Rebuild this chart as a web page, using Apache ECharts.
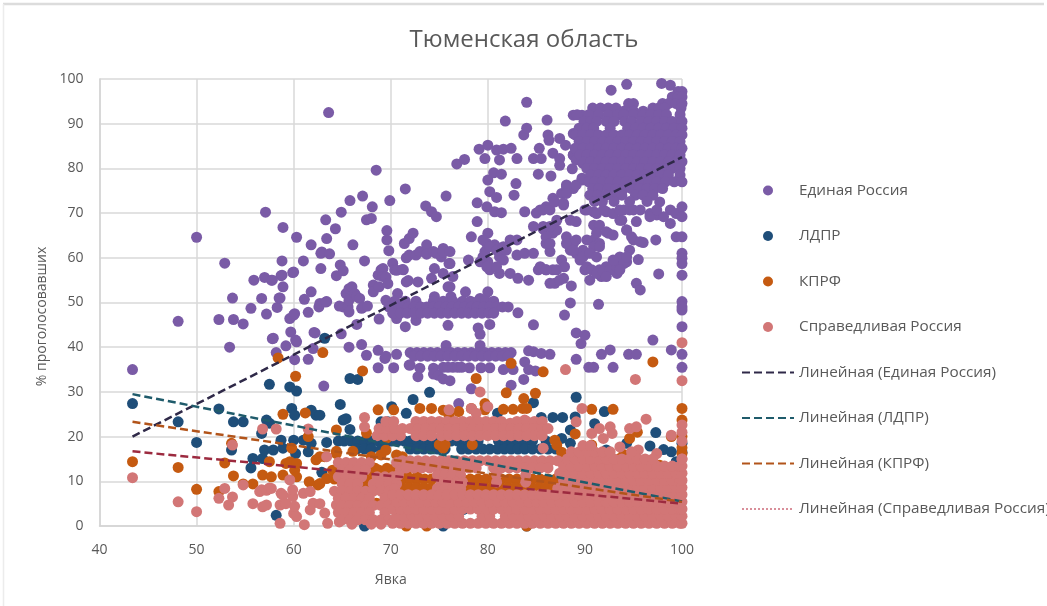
<!DOCTYPE html>
<html><head><meta charset="utf-8">
<style>html,body{margin:0;padding:0;background:#fff}#c{width:1047px;height:606px;filter:blur(0.55px)}</style>
<script src="https://cdn.jsdelivr.net/npm/echarts@6/dist/echarts.min.js"></script>
</head><body><div id="c"></div>
<script>
const chartTitle='Тюменская область';
const xName='Явка', yName='% проголосовавших';
const seriesNames=['Единая Россия','ЛДПР','КПРФ','Справедливая Россия'];
const trendNames=['Линейная (Единая Россия)','Линейная (ЛДПР)','Линейная (КПРФ)','Линейная (Справедливая Россия)'];
const trendX=[43.4,100];
const trendER=[20,82.5], trendLDPR=[29.5,5.5], trendKPRF=[23.3,5.4], trendSR=[16.7,5];

// Единая Россия – separate points
const erLeft=[[43.4,35],[48.1,45.8],[50,64.6],[52.3,46.2],[52.9,58.8],[53.8,46.2],[54.8,45.2],[53.4,40],[53.7,51],[55.6,48.7],[55.9,55],[56.7,50.9],[57,55.6],[57.1,70.2],[57.2,47.4],[57.7,55],[57.8,55],[57.8,41.9],[57.9,42],[58.2,38.8],[58.3,48.9],[58.5,51],[58.6,51],[58.7,56],[58.8,59.3],[58.8,56.1],[58.9,53.5],[58.9,66.8],[59.2,40.3],[59.6,46.4],[59.7,43.4],[59.9,56.7],[60,56.8],[60,47.2],[60.1,47.5],[60.1,37.2],[60.2,41.6],[60.3,64.6],[60.3,41.2],[61,59.3],[61.1,50.7],[61.5,47.8],[61.5,37.3],[61.8,52.4],[61.8,62.9],[62,39.7],[62.1,43.3],[62.2,43.2],[62.6,49],[62.7,49.8],[62.8,61],[62.8,57.6],[62.9,61.3],[63.1,31.3],[63.3,50.1],[63.3,68.5],[63.4,50.2],[63.4,64.3],[63.6,92.5],[63.7,60.9],[64.3,66.5],[64.4,56],[64.7,49.2],[64.8,58.4],[64.9,70.2],[64.9,43],[65.1,57.1],[65.1,49],[65.4,52],[65.6,49],[65.7,53.1],[65.7,50.5],[65.7,47.9],[65.7,40],[65.8,72.8],[66,53.5],[66.1,62.9],[66.3,52],[66.5,45.1],[66.5,51.3],[66.8,50.9],[67,48.7],[67,40.6],[67.1,73.8],[67.2,49],[67.3,59.3],[67.5,68.5],[67.5,38.2],[67.6,49.2],[68,68.8],[68.1,71.4],[68.2,53.9],[68.2,52.4],[68.5,79.6],[68.7,56.1],[68.7,39.3],[68.7,35.4],[68.8,53.5],[68.8,46.3],[69,57.3],[69.2,57.6],[69.2,55.8],[69.4,37.5],[69.5,55.7],[69.5,50.5],[69.5,38],[69.6,66.1],[69.6,64],[69.7,54.2],[69.8,61.6],[69.9,72.8],[70.2,58.8],[70.3,35.4],[70.4,57.3],[70.6,57.2],[70.6,46.4],[70.6,38.4],[70.7,52],[71.2,57.4],[71.5,44.6],[71.6,54.6],[71.6,60],[71.9,36]];
const erMid=[[71.3,57.3],[71.4,63.2],[71.5,75.4],[71.8,54.9],[71.9,64.3],[71.9,60.6],[72,36],[72.3,65.5],[72.6,60.6],[72.6,46],[72.8,54.6],[72.8,33.4],[73,61.4],[73,35.3],[73.6,71.6],[73.7,62.9],[73.7,60.8],[74.2,70.3],[74.2,55.4],[74.4,61.4],[74.4,35.3],[74.4,34],[74.5,57.6],[74.5,51.3],[74.7,69.2],[74.7,61],[74.9,33.7],[75.2,60.2],[75.4,62.1],[75.4,56.5],[75.4,61.3],[75.4,32.9],[75.7,73.8],[75.7,40.4],[75.9,53.5],[75.9,44.9],[76,58.7],[76.1,61.4],[76.1,58.7],[76.1,53.5],[76.1,32.5],[76.2,51.3],[76.4,55.8],[76.8,81],[77,27.4],[77.6,82],[77.7,52.4],[78,59.5],[78.1,35.4],[78.3,64.7],[78.3,30.7],[78.9,72.3],[78.9,68.1],[79,44.3],[79.1,84.3],[79.2,59.1],[79.2,50.9],[79.2,42.9],[79.2,40.4],[79.3,35.4],[79.7,82.2],[79.7,61.4],[79.9,71.4],[79.9,63.2],[80,85.2],[80,77.4],[80,65.5],[80,59.1],[80,52.4],[80.2,74.8],[80.2,57.3],[80.2,45.1],[80.2,35.4],[80.6,79],[80.7,70.3],[80.7,62.9],[80.9,84.1],[80.9,73.5],[81.2,81.9],[81.2,60.2],[81.2,56.5],[81.4,78.7],[81.4,70.1],[81.6,84.3],[81.6,59.5],[81.6,35],[81.8,90.6],[81.9,61.7],[82.3,64],[82.3,56.5],[82.4,84.5],[82.4,31.5],[82.6,35],[82.7,74],[82.9,76.6],[83,82.2],[83,64],[83,60.6],[83.1,55.4],[83.1,47.7],[83.7,87.5],[83.7,32.8],[83.8,70.3],[83.8,61],[83.8,36.7],[84,94.8],[84,89],[84.2,55],[84.2,39.2],[84.2,35],[84.7,82.2],[84.7,67],[84.7,61],[84.7,45],[84.7,39],[84.9,34.7],[85.2,78.7],[85.2,57.3],[85.3,84.5],[85.4,70.7],[85.5,82.2],[85.5,38.6],[85.7,66.4],[86,71.4],[86,63.2],[86,57.3],[86.1,90.8],[86.2,87.5],[86.3,86.3],[86.4,61.4],[86.4,38.4],[86.5,78.3],[86.7,83.4],[86.7,73.3],[86.7,65.5],[86.7,57.3],[86.9,54.3],[87.4,86.7],[87.4,82.2],[87.4,80.7],[87.6,74.4],[87.6,59.5],[87.8,71.8],[87.8,55.4],[87.9,58],[87.9,47.2],[88,85.2],[88.1,76.3],[88.1,64.7],[88.5,68.4],[88.5,61.7],[88.5,49.9],[88.6,53.7],[88.7,79.9],[88.8,91.9],[88.8,83],[88.8,75.5],[88.8,63.2],[89.1,68.1],[89.1,61],[89.1,43.2],[89.1,37.3],[89.5,59.5],[89.6,40.8],[89.7,91.9],[89.7,77.4],[89.8,61.7],[90,70.7],[90,57.3],[90,42.7],[90.4,35.5],[90.5,55],[90.9,70.3],[90.9,64],[90.9,35.5],[91.2,67],[91.4,49.6],[91.5,63.2],[91.5,57.3],[91.7,55.8],[91.7,38.4],[92.2,70.3],[92.2,58],[92.4,65.5],[92.6,39.4],[92.7,97.5],[92.9,58.7],[92.9,35.5],[93.3,56.5],[93.6,68.4],[93.6,60.2],[94,70.7],[94.3,98.8],[94.3,66.2],[94.3,59.1],[94.5,38.4],[94.6,70.7],[94.6,61.7],[95,64],[95.3,68.1],[95.3,54.3],[95.3,38.4],[95.5,59.6],[95.7,52.8],[96,63.4],[96.7,69.9],[97,41.6],[97.3,64],[97.4,69.6],[97.6,56.4],[97.7,72.5],[97.9,99],[98.8,98.6],[98.8,70.7],[98.8,67.7],[98.9,39.4],[99.4,69.9],[99.4,64.7],[100,71.4],[100,69.2],[100,64.7],[100,61],[100,59.9],[100,58.7],[100,56.1],[100,50.2],[100,49],[100,48.3],[100,44.6],[100,38.4],[100,35.5]];
const erExtra=[[90.2,70.7],[91.2,69.9],[91.9,70.7],[92.9,69.9],[90.9,67.3],[91.5,67.3],[91.2,65.5],[92.2,65.8],[92.9,65.1],[90.2,64],[90.9,62.5],[91.5,62.5],[89.8,60.2],[90.5,61],[91.2,60.2],[90.2,58],[90.7,57.3],[91.2,56.5],[91.9,56.9],[92.6,57.3],[93.3,58],[94,58.7],[92.9,59.5],[93.6,57.3],[94.3,60.2],[92.2,55.8],[93.8,68.4],[94.3,66.2],[94.8,64.7],[95.7,63.6],[93.6,70.7],[95,70.7],[95.7,70.7],[96.7,69.2],[98.1,69.2],[97.4,70.7],[85.4,58],[86,57.3],[87.1,57.3],[86.4,54.3],[87.4,55],[88.1,63.2],[88.8,61.7],[89.1,64],[86,64.7],[86.4,63.2],[87.1,66.2],[79.5,64],[80.2,62.5],[80.9,61.7],[81.6,62.5],[79.5,60.2],[79.9,58],[80.9,58],[85,70],[85.7,70.7],[86.4,70.7],[86.9,72.5],[88.1,75.9],[89.1,76.3],[89.7,77.8],[88.1,74.4],[87.8,72.2],[87.1,68.4],[86.4,67],[85.7,67],[88.8,83],[89.1,81.9],[89.8,81.1],[89.5,88.6],[88.8,87.8],[89.1,84.1]];
// Единая Россия – dense rows [y,[x...]]
const erBlobRows=[
[97.2,[99.6,100]],[96,[99,99.6,100]],[94.5,[94.5,95,98,98.6,99.4,100]],[93.5,[90.8,91.6,92.4,93.2,97,97.6,98.2,99.9]],[92.8,[94,95,96]],
[92,[89.2,90.4,91.4,92.4,93.4,94,95,96,96.8,97.6,98.4,99.8]],[90.5,[89.9,90.6,91.2,92.2,93,94.1,94.8,95.8,96.6,97.4,98.2,99,100]],
[89,[89.4,90.2,90.9,92.6,94.4,95.2,96,96.8,97.6,98.4,99.2,100]],[87.5,[89,89.8,90.6,91.4,92.2,93,93.8,94.6,95.4,96.2,97,97.8,98.6,99.4,100]],
[86,[89.4,90.2,91,91.8,92.6,93.4,94.2,95,95.8,96.6,97.4,98.2,99,99.8]],[84.5,[89,89.8,90.6,91.4,92.2,93,93.8,94.6,95.4,96.2,97,97.8,98.6,99.4,100]],
[83,[89.5,90.2,91,91.8,92.6,93.4,94.2,95,95.8,96.6,97.4,98.2,99,99.8]],[81.5,[89.9,90.6,91.4,92.2,93,93.8,94.6,95.4,96.2,97,97.8,98.6,99.4,100]],
[80,[90.2,91,91.8,92.6,93.4,94.2,95,95.8,96.6,97.4,98.2,99,99.8]],[78.5,[90.6,91.4,92.2,93,93.8,94.6,95.4,96.2,97,97.8,98.6,99.8]],
[77,[90.4,91,91.8,92.6,93.4,94.2,95,95.8,96.6,97.4,98.3,99.2,100]],[75.5,[90.8,91.4,92.4,93.2,94,94.8,95.6,96.4,97.2,98]],
[74,[90.5,91.3,92.2,93,93.8,95.2,96,97]],[72.6,[91,91.8,93,94.6,96.4]]];
const erBandRows=[
[50.3,[70.4,71.5,72.6,74.4,75.4,76.4,77.4,78.2,79,79.8,80.6]],
[49,[69.8,70.5,71.1,71.8,72.4,73.1,73.7,74.4,75,75.7,76.3,77,77.6,78.3,78.9,79.6,80.2,80.9,81.5,82.1]],
[47.6,[70.2,71,71.7,72.4,73.1,73.8,74.5,75.2,75.9,76.6,77.3,78,78.7,79.4,80.1,80.6]],
[38.8,[72,72.7,73.4,74.1,74.8,75.5,76.2,76.9,77.6,78.3,79,79.7,80.4,81.1,81.8,82.4]],
[38,[72.4,73.1,73.8,74.5,75.2,75.9,76.6,77.3,78,78.7,79.4,80.1,80.8,81.5,82.1]],
[35.5,[75.4,75.9,76.4,76.9,77.3]]];

// ЛДПР
const ldprPoints=[[43.4,27.4],[48.1,23.3],[50,18.7],[52.3,26.2],[53.6,17],[53.8,23.3],[54.8,23.3],[55.6,13],[55.8,15.1],[56.7,20.7],[56.8,15.1],[57,17],[57.2,23.7],[57.5,31.7],[57.5,23],[57.9,17],[58.2,2.4],[58.7,19.2],[58.9,17.4],[59.6,31.1],[59.8,26.3],[60,19.2],[60.1,24.8],[60.2,16.2],[60.3,30.2],[61,19.2],[61.5,16.6],[61.8,25.9],[61.8,18.5],[62.3,24.8],[62.7,24.8],[62.9,12],[63.2,42],[63.4,18.7],[64.8,27.2],[65.1,23.7],[65.4,24],[65.8,33],[65.8,21.6],[66.3,13.6],[66.6,32.8],[67.3,0],[69,23.3],[69.7,23.3],[70.1,26.7],[71.6,25.2],[72.3,28.3],[74,29.9],[75.4,0],[77.5,3.7],[81,25.2],[81.1,9.5],[84,0],[84.7,27.6],[85.5,24.3],[86.7,24.3],[87.6,19.6],[87.7,24.3],[88.5,21.5],[88.5,18.5],[89,24.4],[89.1,28.8],[91,22.9],[92,25.6],[92.2,17],[94.3,18.5],[96.7,17.9],[97.3,20.9],[98.1,17.1],[98.9,16.6],[99.4,14.4],[100,18.5],[100,16.5]];
const ldprBandRows=[
[19,[64.6,65.2,65.9,66.6,67.3,68,68.7,69.3,70,70.7,71.4,72,72.7,73.4,74.1,74.8,75.5,76.2,76.9,77.6,78.3,79,81.1,81.8,82.5,83.2,83.9,84.6,86]],
[17.2,[66.5,67.3,68,69,72,72.7,73.4,74.1,74.8,75.6,77.3,78,78.8,79.5,80.2,81,81.7,82.4,83.1,83.8,84.6,85.4,86.2,87]]];

// КПРФ
const kprfPoints=[[43.4,14.4],[48.1,13.1],[50,8.2],[52.3,7.7],[52.9,14.1],[53.6,18.5],[53.8,11.2],[54.8,9.4],[55.8,9.4],[56.8,11.4],[57.5,14.4],[57.7,11],[58.4,37.6],[58.9,11.4],[58.9,25],[59.2,14],[59.6,14.4],[59.8,17.4],[60.1,12.5],[60.2,33.5],[60.3,14],[60.3,11],[61.2,25.3],[61.5,20],[61.6,9.9],[62.3,14.8],[62.5,9.2],[62.7,15.5],[62.7,9.5],[63,38.8],[63.2,15.5],[63.4,10.6],[64.4,21.5],[64.4,16.7],[64.4,16.2],[66,14],[66.1,16.7],[67.1,34.7],[67.5,20.8],[67.5,10],[67.5,9],[68,15.5],[68.4,12.9],[68.5,5.1],[68.6,5],[68.7,26],[69,15.9],[69.5,17],[69.6,19.7],[69.6,12.9],[70.3,26],[70.5,13],[70.6,15.9],[71.2,15.5],[71.6,11.8],[72.7,11.1],[73,26.3],[74.2,26.3],[75.4,25.9],[75.4,17.4],[76,24.8],[77,25.6],[78.3,26.3],[78.8,33],[79.7,27.4],[79.7,26],[81.6,26.1],[81.9,29.8],[82.4,36.4],[82.6,26.1],[83.6,26.3],[83.7,28.5],[84,26.3],[84,0],[84.9,29.7],[85.7,34.5],[86.9,19.2],[87.1,18.1],[87.6,16.5],[89,20.6],[90.7,26.1],[90.7,18.1],[92.9,26.1],[93.6,15.1],[94,16],[94.6,19.6],[95.4,21],[96.2,13.3],[97,36.7],[97.7,13.6],[98.9,20],[100,26.3],[100,23.7],[100,17.5],[100,16.2],[100,20],[73.7,0],[71.6,0]];
const kprfBandRows=[
[12.5,[64,64.8,65.6,66.4,67.2,68,68.8,69.6,70.4]],
[10.5,[64.2,65,65.8,66.6,67.4,68.2,69,70,71.2,72,72.8,73.5,74.2,75,75.8,76.6,77.4,78.2,79,79.8,80.6,81.4,82.2,83,83.8,84.6,85.4,86.2,87]],
[8.6,[65.5,66.5,67.5,68.2,69,71,71.8,72.6,73.4,74.2,75,75.8,76.8,78,78.8,79.6,80.4,81.2,82,82.8,83.6,84.4,85.2,86,86.8]],
[18.2,[75,75.6,78.4]]];

// Справедливая Россия
const srPoints=[[43.4,10.8],[48.1,5.4],[50,3.2],[52.3,6.2],[52.9,8.4],[53.3,4.7],[53.7,6.5],[53.7,18.1],[54.8,9.2],[55.8,5],[56.5,7.7],[56.7,8.1],[56.8,4.3],[56.8,21.7],[57.2,8],[57.2,4.7],[57.5,8.5],[57.7,8.4],[58.2,21.7],[58.6,4.7],[58.6,0.6],[58.7,7.3],[58.9,6.9],[59.2,5],[59.6,10.3],[59.9,6.6],[59.9,8.1],[60,2.8],[60.1,4.4],[60.3,2.1],[61,7.3],[61.1,0.3],[61.5,21.7],[61.7,7.7],[61.7,3.6],[62,5.1],[62.7,5],[63.2,2.9],[63.4,15.5],[63.5,0.6],[64.4,4.7],[64.7,0.9],[67.3,24.3],[67.3,22.2],[76,26],[78.3,26.3],[78.8,25.2],[79.2,30],[80,26.7],[82.3,23],[83.8,23.7],[85.7,17.4],[88,35],[89.1,23.3],[89.7,26.3],[90.7,20.7],[91.5,21.8],[91.9,19.6],[92.6,22.2],[92.8,20.7],[93.6,17.7],[94.6,21.8],[95.2,32.8],[95.3,22.2],[95.5,17],[96.3,23.9],[97.4,16.2],[98.9,20.3],[100,41],[100,32.5],[100,22.6],[100,21],[100,19],[100,15]];
const srLeftRows=[
[14.2,[64.6,65.4,66.2,67,67.8,70.6,71.4]],[12.6,[65,65.8,66.6,67.4,71]],[11,[64.6,65.4,66.2,67,68.6,69.4,70.2]],
[9.4,[65,65.8,66.6,68.2,69,69.8,70.6]],[7.8,[64.2,65,65.8,66.6,67.4,68.2,69,69.8]],[6.2,[64.6,65.4,66.2,67,67.8,69.4,70.2]],
[4.6,[65,65.8,66.6,67.4,68.2,69,69.8]],[3,[64.6,65.4,66.2,67,67.8,69.4]],[1.4,[65,65.8,66.6,67.4,68.2,69,69.8]],[0.4,[66,68,69]],
[20.2,[68.6,69.4,70.2,71]],[21.8,[68.8,69.6,70.4,71.2]],[23.4,[69.5,70.3]]];
const srBandRows=[
[23.4,[72.6,73.4,74.2,75,75.8,76.6,77.4,78.2,79,79.8,80.6,81.4,83,84,84.8,85.6]],
[21.8,[72,72.8,73.6,74.4,75.2,76,76.8,77.6,78.4,79.2,80,80.8,81.6,82.4,83.2,84,84.8,85.6,86.2]],
[20.2,[72.6,73.4,74.2,75.2,76,76.8,77.6,78.4,79.2,80,80.8,81.6,82.4,83.2,84,84.8,85.6]],
[14.6,[71.2,72,72.8,73.6,74.4,75.2,76,76.8,77.6,78.4,79.2,80,80.8,81.6,82.4,83.2,84,84.8,85.6,86.4,87.2]],
[13,[71.6,72.4,73.2,74,74.8,75.6,76.4,77.2,78,78.8,80.6,81.4,82.2,83,83.8,84.6,85.4,86.2]],
[11.4,[74.8,75.6,76.4,77.2,80.9,83.9,70.8]],[9.8,[75.2,76,76.8,77.4,80.9,83.9]],[8.4,[74.8,75.6,76.4,77.2,70.4,87.2]]];
const massA=[70.2,71,71.8,72.6,73.4,74.2,75,75.8,76.6,77.4,78.2,79,79.8,80.6,81.4,82.2,83,83.8,84.6,85.4,86.2,87,87.8,88.6,89.4,90.2,91,91.8,92.6,93.4,94.2,95,95.8,96.6,97.4,98.2,99,99.8,100];
const massB=[70.6,71.4,72.2,73,73.8,74.6,75.4,76.2,77,77.8,78.6,79.4,80.2,81,81.8,82.6,83.4,84.2,85,85.8,86.6,87.4,88.2,89,89.8,90.6,91.4,92.2,93,93.8,94.6,95.4,96.2,97,97.8,98.6,99.4,100];
const holes5=[76.6,77.4], holes2=[77.8,78.6,80.6,81];
const srMassRows=[
[0.6,massA],[2.2,massB.filter(x=>!holes2.includes(x))],[3.8,massA],[5.4,massB.filter(x=>!holes5.includes(x))],[7,massA],
[8.6,massB.slice(22)],[10.2,massA.slice(22)],[11.8,massB.slice(21)],[13.4,massA.slice(22)],
[15,[88.2,89,89.8,90.6,91.4,92.2,93,93.8,94.6,95.4,96.2,97,100]],[16.6,[88.6,89.4,90.2,91,91.8,92.6,94.8]],[18,[89.8,90.6]]];

const expand=rows=>rows.flatMap(([y,xs])=>xs.map(x=>[x,y]));
const pts=(list,rows)=>list.concat(...rows.map(expand));
const erData=pts(erLeft.concat(erMid,erExtra),[erBlobRows,erBandRows]);
const ldprData=pts(ldprPoints,[ldprBandRows]);
const kprfData=pts(kprfPoints,[kprfBandRows]);
const srData=pts(srPoints,[srLeftRows,srBandRows,srMassRows]);
const colors=['#7a5ba6','#1f4e79','#c55a11','#d27676'];
const trendColors=['#2f2948','#1f5b6b','#b2541a','#9c2a3f'];
const line=(name,ys,col)=>({name,type:'line',data:trendX.map((x,i)=>[x,ys[i]]),symbol:'none',z:5,silent:true,
  lineStyle:{color:col,width:2.5,type:[8,4]},itemStyle:{color:col}});
const scat=(name,data,col)=>({name,type:'scatter',data,symbolSize:11,z:3,itemStyle:{color:col,opacity:1},silent:true,large:false});
const font='"Open Sans"';
const hidden={color:'transparent',borderWidth:0};
const chart=echarts.init(document.getElementById('c'),null,{renderer:'canvas'});
chart.setOption({
 animation:false,backgroundColor:'#fff',
 title:{text:chartTitle,left:519,top:23,textAlign:'center',textStyle:{fontFamily:font,fontSize:24,fontWeight:400,color:'#595959'}},
 grid:{left:99.5,right:365,top:79,bottom:80,containLabel:false},
 xAxis:{type:'value',min:40,max:100,interval:10,name:xName,nameLocation:'middle',nameGap:47,
  nameTextStyle:{fontFamily:font,fontSize:14,color:'#595959'},
  axisLabel:{fontFamily:font,fontSize:14,color:'#595959',margin:17},axisTick:{show:false},
  axisLine:{lineStyle:{color:'#d4d4d4',width:1.5}},splitLine:{show:true,lineStyle:{color:'#d9d9d9',width:1.5}}},
 yAxis:{type:'value',min:0,max:100,interval:10,name:yName,nameLocation:'middle',nameGap:50,nameRotate:90,
  nameTextStyle:{fontFamily:font,fontSize:14,color:'#595959',padding:[0,28,0,0]},
  axisLabel:{fontFamily:font,fontSize:14,color:'#595959',margin:16},axisTick:{show:false},
  axisLine:{show:true,lineStyle:{color:'#d4d4d4',width:1.5}},splitLine:{show:true,lineStyle:{color:'#d9d9d9',width:1.5}}},
 legend:{orient:'vertical',left:736,top:178,itemWidth:52,itemHeight:10,itemGap:30.5,selectedMode:false,
  textStyle:{fontFamily:font,fontSize:15.3,color:'#595959'},
  data:[
   {name:seriesNames[0],icon:'circle'},{name:seriesNames[1],icon:'circle'},{name:seriesNames[2],icon:'circle'},{name:seriesNames[3],icon:'circle'},
   {name:trendNames[0],itemStyle:hidden},{name:trendNames[1],itemStyle:hidden},{name:trendNames[2],itemStyle:hidden},
   {name:trendNames[3],itemStyle:hidden,lineStyle:{color:'#d98f9a',type:[2,2],width:2}}]},
 graphic:[{type:'line',shape:{x1:3,y1:4,x2:1044,y2:4},style:{stroke:'#dcdcdc',lineWidth:2.5},silent:true},
  {type:'line',shape:{x1:3.5,y1:4,x2:3.5,y2:606},style:{stroke:'#ececec',lineWidth:1.5},silent:true}],
 series:[scat(seriesNames[0],erData,colors[0]),scat(seriesNames[1],ldprData,colors[1]),scat(seriesNames[2],kprfData,colors[2]),scat(seriesNames[3],srData,colors[3]),
  line(trendNames[0],trendER,trendColors[0]),line(trendNames[1],trendLDPR,trendColors[1]),line(trendNames[2],trendKPRF,trendColors[2]),line(trendNames[3],trendSR,trendColors[3])]
});
</script></body></html>
